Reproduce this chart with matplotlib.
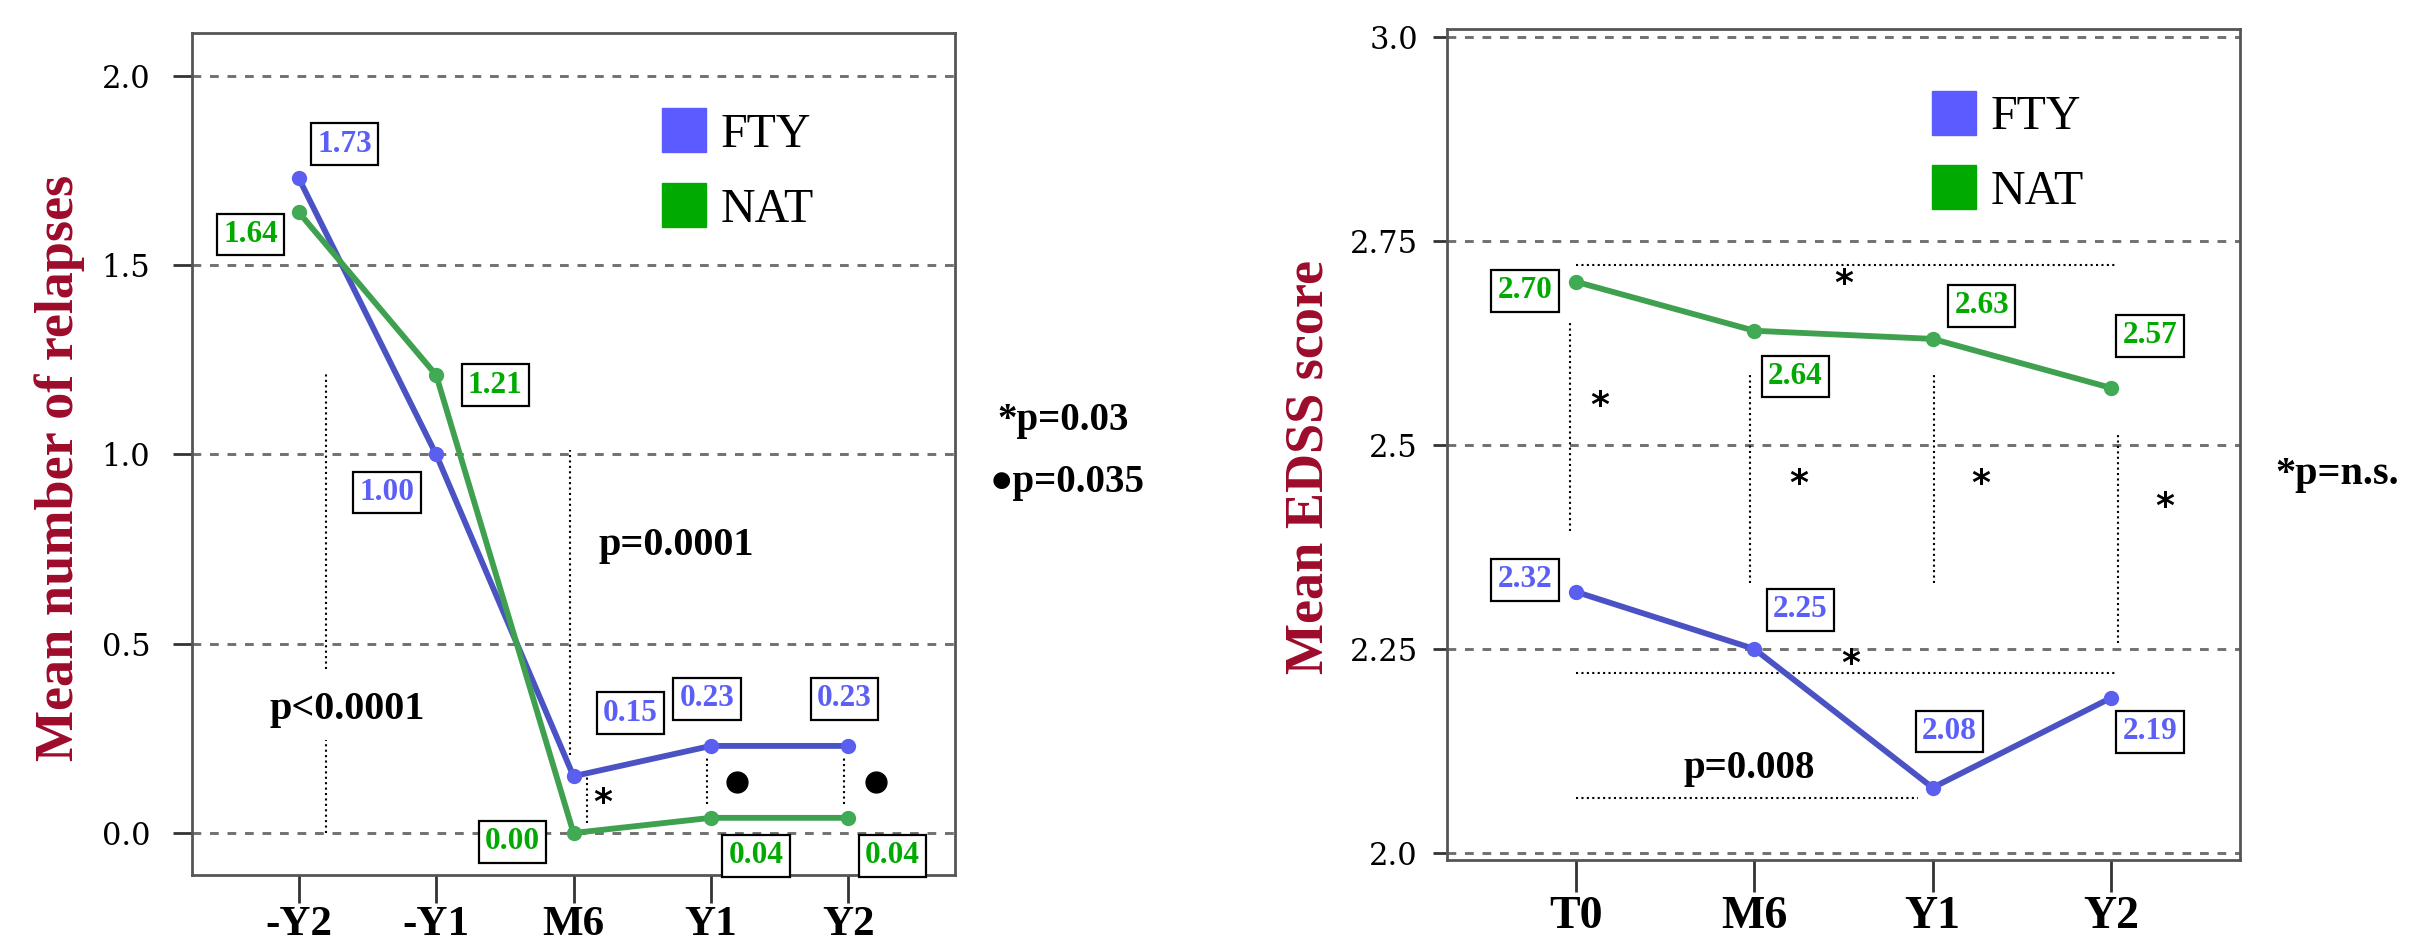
import numpy as np
import matplotlib.pyplot as plt
from matplotlib.lines import Line2D

plt.rcParams['font.family'] = ['Liberation Serif', 'DejaVu Sans']

# ---- data ----
rel_cats = ['-Y2', '-Y1', 'M6', 'Y1', 'Y2']
rel_fty = [1.73, 1.00, 0.15, 0.23, 0.23]
rel_nat = [1.64, 1.21, 0.00, 0.04, 0.04]
rel_yticks = [0.0, 0.5, 1.0, 1.5, 2.0]

edss_cats = ['T0', 'M6', 'Y1', 'Y2']
edss_fty = [2.32, 2.25, 2.08, 2.19]
edss_nat = [2.70, 2.64, 2.63, 2.57]
edss_yticks = [2.0, 2.25, 2.5, 2.75, 3.0]
edss_yticklabels = ['2.0', '2.25', '2.5', '2.75', '3.0']

# where each value box sits relative to its point (pixels, x right / y up)
rel_fty_off = [(46, 34), (-49, -38), (57, 63), (-4, 47), (-4, 47)]
rel_nat_off = [(-48, -22), (59, -10), (-61, -9), (45, -38), (44, -38)]
edss_fty_off = [(-51, 12), (46, 39), (17, 56), (39, -34)]
edss_nat_off = [(-51, -9), (41, -46), (49, 33), (39, 52)]

FTY_LINE, FTY_PT, FTY_TXT = '#4b53c4', '#5a5ff0', '#5b5ff8'
NAT_LINE, NAT_PT, NAT_TXT = '#3fa14f', '#40aa55', '#00aa00'
RED = '#9e0b2b'
DOT = (0, (1, 1.6))
STAR = dict(ha='center', va='center', fontsize=26, fontweight='bold', family='DejaVu Sans')


def panel(ax, cats, fty, nat, fty_off, nat_off, yticks, ylabels, ylim, lblsize):
    x = np.arange(len(cats))
    ax.plot(x, fty, color=FTY_LINE, lw=4.2, marker='o', ms=10,
            mfc=FTY_PT, mec=FTY_PT, zorder=4)
    ax.plot(x, nat, color=NAT_LINE, lw=4.2, marker='o', ms=10,
            mfc=NAT_PT, mec=NAT_PT, zorder=4)
    for vals, offs, col in [(fty, fty_off, FTY_TXT), (nat, nat_off, NAT_TXT)]:
        for i, v in enumerate(vals):
            ax.annotate('%.2f' % v, (x[i], v), xytext=offs[i],
                        textcoords='offset pixels', ha='center', va='center',
                        fontsize=lblsize, fontweight='bold', color=col,
                        bbox=dict(boxstyle='square,pad=0.2', fc='white',
                                  ec='black', lw=1.6),
                        annotation_clip=False, zorder=6)
    ax.set_xticks(x)
    ax.set_xticklabels(cats, fontweight='bold')
    ax.set_yticks(yticks)
    ax.set_yticklabels(ylabels, family='DejaVu Serif')
    ax.set_ylim(ylim)
    ax.yaxis.grid(True, ls=(0, (3, 3)), lw=2.1, color='#707070')
    ax.set_axisbelow(True)
    for s in ax.spines.values():
        s.set_color('#555555')
        s.set_linewidth(2)
    hs = [Line2D([], [], ls='none', marker='s', ms=32, mfc='#5b5bff', mec='#5b5bff'),
          Line2D([], [], ls='none', marker='s', ms=32, mfc='#00aa00', mec='#00aa00')]
    return hs


fig = plt.figure(figsize=(24.14, 9.46), dpi=100)
ax1 = fig.add_axes([0.07954, 0.07505, 0.31607, 0.89006])
ax2 = fig.add_axes([0.59942, 0.09091, 0.3285, 0.87844])

hs = panel(ax1, rel_cats, rel_fty, rel_nat, rel_fty_off, rel_nat_off,
           rel_yticks, ['%.1f' % t for t in rel_yticks], (-0.111, 2.1136), 22.5)
ax1.set_xlim(-0.777, 4.777)
ax1.tick_params(axis='y', length=14, width=2, pad=16, labelsize=22, color='#333333')
ax1.tick_params(axis='x', length=20, width=2, pad=2, labelsize=31, color='#333333')
ax1.legend(hs, ['FTY', 'NAT'], loc='upper left', bbox_to_anchor=(0.613, 0.905),
           frameon=False, fontsize=34.5, borderpad=0, borderaxespad=0,
           handlelength=1.0, handletextpad=0.27, labelspacing=0.65)
ax1.set_ylabel('Mean number of relapses', fontsize=39, fontweight='bold', color=RED)
ax1.yaxis.set_label_coords(-0.174, 0.483)
ax1.yaxis.label.set_va('center')

# significance marks, relapses
ax1.vlines(0.196, 0.433, 1.213, color='black', lw=1.5, ls=DOT)
ax1.vlines(0.196, 0.0, 0.246, color='black', lw=1.5, ls=DOT)
ax1.vlines(1.975, 0.206, 1.012, color='black', lw=1.5, ls=DOT)
ax1.vlines(2.10, 0.026, 0.148, color='black', lw=1.5, ls=DOT)
ax1.vlines([2.97, 3.97], 0.077, 0.20, color='black', lw=1.5, ls=DOT)
ax1.plot([3.19, 4.20], [0.135, 0.135], 'o', color='black', ms=15)
ax1.text(0.356, 0.325, 'p<0.0001', ha='center', va='center', fontsize=29, fontweight='bold')
ax1.text(2.745, 0.76, 'p=0.0001', ha='center', va='center', fontsize=29, fontweight='bold')
ax1.text(2.21, 0.08, '*', **STAR)

hs = panel(ax2, edss_cats, edss_fty, edss_nat, edss_fty_off, edss_nat_off,
           edss_yticks, edss_yticklabels, (1.9914, 3.0098), 22.5)
ax2.set_xlim(-0.724, 3.724)
ax2.tick_params(axis='y', length=10, width=2, pad=11, labelsize=22, color='#333333')
ax2.tick_params(axis='x', length=23, width=2, pad=3, labelsize=33, color='#333333')
ax2.legend(hs, ['FTY', 'NAT'], loc='upper left', bbox_to_anchor=(0.609, 0.92),
           frameon=False, fontsize=34.5, borderpad=0, borderaxespad=0,
           handlelength=1.0, handletextpad=0.27, labelspacing=0.63)
ax2.set_ylabel('Mean EDSS score', fontsize=39, fontweight='bold', color=RED)
ax2.yaxis.set_label_coords(-0.174, 0.473)
ax2.yaxis.label.set_va('center')

# significance marks, EDSS
ax2.hlines(2.72, 0, 3.034, color='black', lw=1.5, ls=DOT)
ax2.hlines(2.22, 0, 3.034, color='black', lw=1.5, ls=DOT)
ax2.hlines(2.067, 0, 1.92, color='black', lw=1.5, ls=DOT)
ax2.vlines(-0.034, 2.395, 2.653, color='black', lw=1.5, ls=DOT)
ax2.vlines([0.976, 2.008], 2.331, 2.59, color='black', lw=1.5, ls=DOT)
ax2.vlines(3.04, 2.257, 2.516, color='black', lw=1.5, ls=DOT)
for sx, sy in [(0.13, 2.548), (1.25, 2.452), (2.27, 2.452), (3.30, 2.424),
               (1.5, 2.697), (1.54, 2.232)]:
    ax2.text(sx, sy, '*', **STAR)
ax2.text(0.97, 2.104, 'p=0.008', ha='center', va='center', fontsize=28, fontweight='bold')

fig.text(0.413, 0.556, '*p=0.03', ha='left', va='center', fontsize=28, fontweight='bold')
fig.text(0.410, 0.490, '\u25cfp=0.035', ha='left', va='center', fontsize=28, fontweight='bold')
fig.text(0.9425, 0.498, '*p=n.s.', ha='left', va='center', fontsize=29, fontweight='bold')

fig.savefig('out.png', dpi=100)
